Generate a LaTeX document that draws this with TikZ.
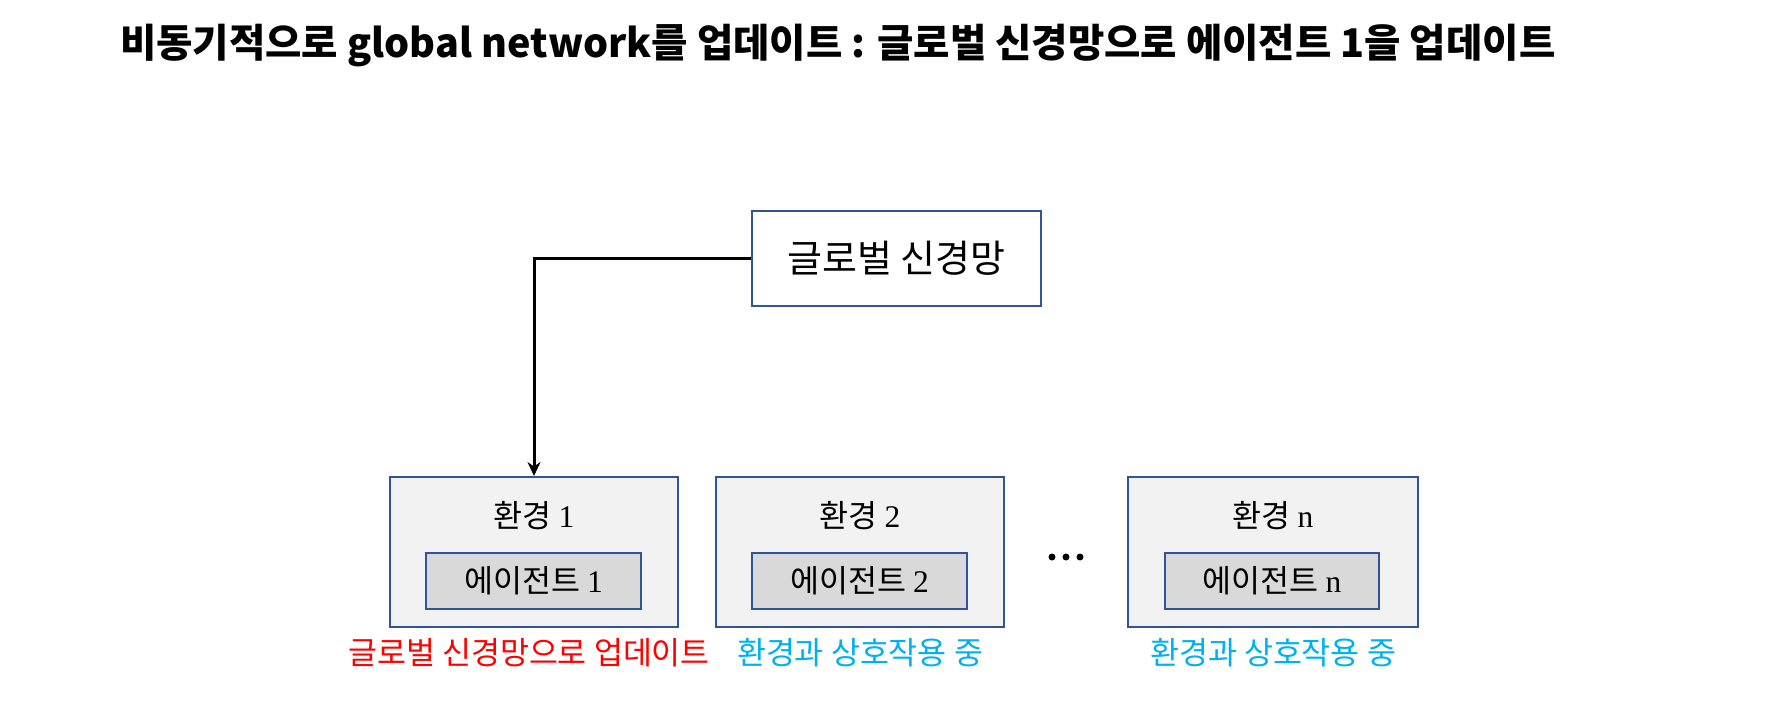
\documentclass[tikz,border=0pt]{standalone}
\usepackage{fontspec}
\setmainfont{Noto Sans CJK KR}
\newfontfamily\ser{Liberation Serif}
\usetikzlibrary{arrows.meta}
\definecolor{boxblue}{HTML}{2F5597}
\definecolor{envfill}{HTML}{F2F2F2}
\definecolor{agfill}{HTML}{D9D9D9}
\definecolor{lblred}{HTML}{FF0000}
\definecolor{lblcyan}{HTML}{00B0F0}
\tikzset{
  envbox/.style={draw=boxblue, line width=2pt, fill=envfill, minimum width=288pt, minimum height=150pt, inner sep=0pt},
  agbox/.style={draw=boxblue, line width=2pt, fill=agfill, minimum width=215pt, minimum height=56pt, inner sep=0pt, font=\fontsize{31.5}{34}\selectfont},
  globbox/.style={draw=boxblue, line width=2pt, fill=white, minimum width=289pt, minimum height=95pt, inner sep=0pt, font=\fontsize{38}{41}\selectfont},
  envlbl/.style={inner sep=0pt, font=\fontsize{31.5}{34}\selectfont},
  redlbl/.style={inner sep=0pt, text=lblred, font=\fontsize{31.5}{34}\selectfont},
  cyanlbl/.style={inner sep=0pt, text=lblcyan, font=\fontsize{31.5}{34}\selectfont},
  conn/.style={line width=3pt, -{Stealth[length=14pt,width=13pt]}},
}
\begin{document}
\begin{tikzpicture}[x=1pt,y=-1pt]
\useasboundingbox (0,0) rectangle (1766,714);
\node[anchor=west, inner sep=0pt, font=\fontsize{39.5}{42}\selectfont\bfseries] (title) at (120,46) {비동기적으로 global network를 업데이트 : 글로벌 신경망으로 에이전트 1을 업데이트};
\node[globbox] (glob) at (896.5,258.5) {글로벌 신경망};
\node[envbox] (env1) at (534,552) {};
\node[envbox] (env2) at (860,551.5) {};
\node[envbox, minimum width=290pt] (envn) at (1273,551.5) {};
\node[envlbl] (e1t) at (534,516) {환경 {\ser 1}};
\node[envlbl] (e2t) at (860,516) {환경 {\ser 2}};
\node[envlbl] (ent) at (1273,516) {환경 {\ser n}};
\node[agbox] (ag1) at (533.5,581) {에이전트 {\ser 1}};
\node[agbox] (ag2) at (859.5,580.5) {에이전트 {\ser 2}};
\node[agbox, minimum width=214pt] (agn) at (1272,580.5) {에이전트 {\ser n}};
\fill (1052,557) circle (3.5) (1066,557) circle (3.5) (1080,557) circle (3.5);
\node[redlbl] (l1) at (529,653) {글로벌 신경망으로 업데이트};
\node[cyanlbl] (l2) at (860,653) {환경과 상호작용 중};
\node[cyanlbl] (ln) at (1273,653) {환경과 상호작용 중};
\draw[conn] (glob.west) -| (env1.north);
\end{tikzpicture}
\end{document}
